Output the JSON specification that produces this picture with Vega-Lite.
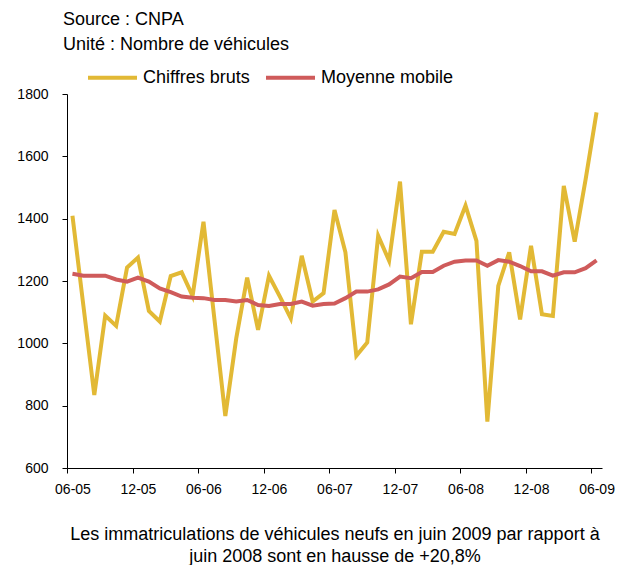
{
  "$schema": "https://vega.github.io/schema/vega-lite/v6.json",
  "width": 535,
  "height": 374,
  "autosize": {"type": "none"},
  "padding": {"left": 67, "top": 94, "right": 17, "bottom": 97},
  "background": "white",
  "config": {
    "font": "Liberation Sans",
    "view": {"stroke": null}
  },
  "title": {
    "text": ["Source : CNPA", "Unité : Nombre de véhicules"],
    "anchor": "start",
    "frame": "group",
    "fontSize": 18,
    "fontWeight": "normal",
    "color": "#000000",
    "lineHeight": 25,
    "offset": 14,
    "dy": 17,
    "dx": -4
  },
  "data": {
    "values": [
      {"mois": "06-05", "Chiffres bruts": 1409, "Moyenne mobile": 1223},
      {"mois": "07-05", "Chiffres bruts": 1121, "Moyenne mobile": 1217},
      {"mois": "08-05", "Chiffres bruts": 834, "Moyenne mobile": 1217},
      {"mois": "09-05", "Chiffres bruts": 1089, "Moyenne mobile": 1217},
      {"mois": "10-05", "Chiffres bruts": 1056, "Moyenne mobile": 1205},
      {"mois": "11-05", "Chiffres bruts": 1243, "Moyenne mobile": 1198},
      {"mois": "12-05", "Chiffres bruts": 1275, "Moyenne mobile": 1211},
      {"mois": "01-06", "Chiffres bruts": 1104, "Moyenne mobile": 1198},
      {"mois": "02-06", "Chiffres bruts": 1070, "Moyenne mobile": 1176},
      {"mois": "03-06", "Chiffres bruts": 1216, "Moyenne mobile": 1164},
      {"mois": "04-06", "Chiffres bruts": 1228, "Moyenne mobile": 1150},
      {"mois": "05-06", "Chiffres bruts": 1152, "Moyenne mobile": 1146},
      {"mois": "06-06", "Chiffres bruts": 1390, "Moyenne mobile": 1145},
      {"mois": "07-06", "Chiffres bruts": 1078, "Moyenne mobile": 1139},
      {"mois": "08-06", "Chiffres bruts": 767, "Moyenne mobile": 1139},
      {"mois": "09-06", "Chiffres bruts": 1016, "Moyenne mobile": 1134},
      {"mois": "10-06", "Chiffres bruts": 1211, "Moyenne mobile": 1139},
      {"mois": "11-06", "Chiffres bruts": 1043, "Moyenne mobile": 1123},
      {"mois": "12-06", "Chiffres bruts": 1217, "Moyenne mobile": 1120},
      {"mois": "01-07", "Chiffres bruts": 1150, "Moyenne mobile": 1126},
      {"mois": "02-07", "Chiffres bruts": 1080, "Moyenne mobile": 1126},
      {"mois": "03-07", "Chiffres bruts": 1281, "Moyenne mobile": 1134},
      {"mois": "04-07", "Chiffres bruts": 1134, "Moyenne mobile": 1121},
      {"mois": "05-07", "Chiffres bruts": 1161, "Moyenne mobile": 1126},
      {"mois": "06-07", "Chiffres bruts": 1428, "Moyenne mobile": 1128},
      {"mois": "07-07", "Chiffres bruts": 1292, "Moyenne mobile": 1145},
      {"mois": "08-07", "Chiffres bruts": 960, "Moyenne mobile": 1166},
      {"mois": "09-07", "Chiffres bruts": 1003, "Moyenne mobile": 1166},
      {"mois": "10-07", "Chiffres bruts": 1345, "Moyenne mobile": 1173},
      {"mois": "11-07", "Chiffres bruts": 1265, "Moyenne mobile": 1189},
      {"mois": "12-07", "Chiffres bruts": 1519, "Moyenne mobile": 1214},
      {"mois": "01-08", "Chiffres bruts": 1061, "Moyenne mobile": 1209},
      {"mois": "02-08", "Chiffres bruts": 1294, "Moyenne mobile": 1229},
      {"mois": "03-08", "Chiffres bruts": 1294, "Moyenne mobile": 1229},
      {"mois": "04-08", "Chiffres bruts": 1358, "Moyenne mobile": 1249},
      {"mois": "05-08", "Chiffres bruts": 1351, "Moyenne mobile": 1262},
      {"mois": "06-08", "Chiffres bruts": 1442, "Moyenne mobile": 1266},
      {"mois": "07-08", "Chiffres bruts": 1329, "Moyenne mobile": 1266},
      {"mois": "08-08", "Chiffres bruts": 749, "Moyenne mobile": 1249},
      {"mois": "09-08", "Chiffres bruts": 1184, "Moyenne mobile": 1267},
      {"mois": "10-08", "Chiffres bruts": 1292, "Moyenne mobile": 1262},
      {"mois": "11-08", "Chiffres bruts": 1077, "Moyenne mobile": 1248},
      {"mois": "12-08", "Chiffres bruts": 1313, "Moyenne mobile": 1231},
      {"mois": "01-09", "Chiffres bruts": 1093, "Moyenne mobile": 1231},
      {"mois": "02-09", "Chiffres bruts": 1088, "Moyenne mobile": 1217},
      {"mois": "03-09", "Chiffres bruts": 1505, "Moyenne mobile": 1228},
      {"mois": "04-09", "Chiffres bruts": 1326, "Moyenne mobile": 1228},
      {"mois": "05-09", "Chiffres bruts": 1526, "Moyenne mobile": 1241},
      {"mois": "06-09", "Chiffres bruts": 1741, "Moyenne mobile": 1266}
    ]
  },
  "transform": [
    {"fold": ["Chiffres bruts", "Moyenne mobile"], "as": ["serie", "valeur"]}
  ],
  "mark": {"type": "line", "strokeWidth": 4, "strokeJoin": "miter", "strokeCap": "butt"},
  "encoding": {
    "x": {
      "field": "mois",
      "type": "ordinal",
      "sort": null,
      "scale": {"type": "point", "padding": 0.5},
      "axis": {
        "values": ["06-05", "12-05", "06-06", "12-06", "06-07", "12-07", "06-08", "12-08", "06-09"],
        "labelAngle": 0,
        "labelFontSize": 14,
        "labelColor": "#000000",
        "labelPadding": 9,
        "tickSize": 5,
        "tickColor": "#000000",
        "domainColor": "#000000",
        "tickOffset": -5.46,
        "labelOffset": 5.46,
        "grid": false,
        "title": ["Les immatriculations de véhicules neufs en juin 2009 par rapport à", "juin 2008 sont en hausse de +20,8%"],
        "titleFontSize": 18,
        "titleFontWeight": "normal",
        "titleColor": "#000000",
        "titleLineHeight": 22,
        "titlePadding": 29
      }
    },
    "y": {
      "field": "valeur",
      "type": "quantitative",
      "scale": {"domain": [600, 1800], "nice": false, "zero": false},
      "axis": {
        "values": [600, 800, 1000, 1200, 1400, 1600, 1800],
        "format": "d",
        "labelFontSize": 14,
        "labelColor": "#000000",
        "labelPadding": 14,
        "tickSize": 5,
        "tickColor": "#000000",
        "domainColor": "#000000",
        "grid": false,
        "title": null
      }
    },
    "color": {
      "field": "serie",
      "type": "nominal",
      "scale": {"domain": ["Chiffres bruts", "Moyenne mobile"], "range": ["#E2B935", "#CF5B5B"]},
      "legend": {
        "title": null,
        "orient": "none",
        "direction": "horizontal",
        "legendX": 19,
        "legendY": -43,
        "padding": 0,
        "symbolType": "stroke",
        "symbolSize": 2401,
        "symbolStrokeWidth": 4,
        "labelFontSize": 18,
        "labelColor": "#000000",
        "labelOffset": 4,
        "columnPadding": 8
      }
    }
  }
}
